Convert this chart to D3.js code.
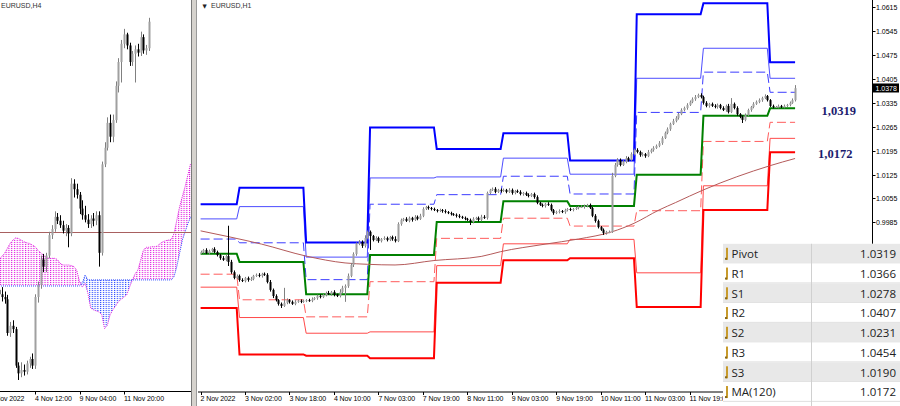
<!DOCTYPE html>
<html><head><meta charset="utf-8">
<script src="https://cdn.jsdelivr.net/npm/d3@7"></script>
<style>body{margin:0;background:#fff}svg{display:block}</style>
</head><body><svg id="c" width="900" height="406"></svg>
<script>
// ---------------- DATA ----------------
// H1 chart (right): one close per bar, 2 Nov 10:00 .. 15 Nov 09:00
const h1FirstOpen = 0.9895;
const h1Close = [
 0.9898,0.9904,0.9895,0.9901,0.9907,0.9898,0.9889,0.9880,0.9875,0.9886,0.9869,0.9839,0.9822,0.9828,
 0.9816,0.9813,0.9822,0.9816,0.9819,0.9828,0.9831,0.9828,0.9834,0.9831,0.9810,0.9787,0.9769,0.9757,0.9746,0.9740,0.9749,0.9757,0.9752,0.9746,0.9752,0.9755,0.9752,0.9755,
 0.9757,0.9755,0.9760,0.9763,0.9769,0.9766,0.9772,0.9778,0.9775,0.9781,0.9772,0.9769,0.9781,0.9793,0.9798,0.9828,0.9860,0.9892,0.9922,0.9927,0.9916,0.9939,0.9957,
 0.9945,0.9933,0.9939,0.9930,0.9936,0.9939,0.9933,0.9942,0.9936,0.9930,0.9980,0.9992,0.9995,0.9989,0.9998,0.9992,1.0001,0.9995,1.0004,1.0024,1.0030,1.0027,1.0024,1.0021,
 1.0018,1.0021,1.0018,1.0015,1.0012,1.0009,1.0007,1.0004,1.0001,0.9998,0.9995,0.9992,0.9986,0.9995,0.9998,0.9992,1.0001,0.9998,1.0071,1.0080,1.0083,1.0074,1.0080,1.0077,
 1.0080,1.0074,1.0080,1.0071,1.0077,1.0074,1.0068,1.0071,1.0065,1.0062,1.0068,1.0059,1.0042,1.0036,1.0033,1.0039,1.0036,1.0021,1.0012,1.0015,1.0018,1.0015,1.0021,1.0024,
 1.0021,1.0024,1.0027,1.0030,1.0030,1.0033,1.0036,1.0027,1.0004,0.9989,0.9971,0.9963,0.9954,0.9957,0.9957,1.0121,1.0153,1.0168,1.0153,1.0162,1.0173,1.0168,1.0185,1.0197,
 1.0191,1.0182,1.0185,1.0179,1.0191,1.0197,1.0203,1.0209,1.0217,1.0232,1.0247,1.0258,1.0273,1.0282,1.0291,1.0302,1.0314,1.0320,1.0329,1.0338,1.0346,1.0352,1.0358,1.0352,
 1.0335,1.0326,1.0332,1.0326,1.0323,1.0329,1.0320,1.0314,1.0326,1.0308,1.0332,1.0320,1.0302,1.0294,1.0285,1.0299,1.0314,1.0323,1.0332,1.0338,1.0343,1.0349,1.0355,1.0343,
 1.0326,1.0323,1.0323,1.0326,1.0323,1.0326,1.0329,1.0335,1.0343,1.0378
];
// upper / lower wick lengths in pips
const h1WickUp = [
 4,3,5,4,3,5,4,3,6,5,89,6,5,4,
 4,5,3,4,6,3,4,5,3,4,5,6,4,5,3,4,44,5,3,4,5,3,4,3,
 3,4,5,3,4,5,3,4,6,3,5,4,8,6,5,7,6,5,4,6,5,8,4,
 4,3,5,4,3,5,4,3,4,8,5,4,3,5,4,3,5,4,6,5,3,4,3,4,
 3,4,3,5,3,4,3,4,5,3,4,3,4,5,3,4,6,5,4,3,4,5,3,4,
 4,3,5,4,3,4,5,3,4,5,3,4,5,3,4,3,5,4,3,4,5,3,4,3,
 4,3,4,3,5,4,3,4,3,5,4,3,4,3,4,9,6,5,4,5,6,4,5,4,
 5,4,5,3,6,4,5,4,6,5,4,5,4,6,5,4,5,4,5,4,5,6,4,5,
 4,5,3,4,5,4,3,5,4,6,17,4,5,3,4,5,4,3,5,4,5,4,5,3,
 3,4,3,4,3,4,3,4,5,9
];
const h1WickDn = [
 3,4,3,5,4,3,4,5,3,4,12,5,4,3,
 5,3,4,5,3,4,3,4,5,3,4,5,6,4,5,6,3,4,5,3,4,3,4,3,
 4,3,4,3,5,4,3,4,3,5,4,3,4,3,41,5,4,6,5,4,6,5,4,
 41,4,3,5,4,3,4,3,5,4,3,5,4,3,4,5,3,4,3,4,3,5,4,3,
 4,3,5,4,3,4,3,5,4,3,4,3,9,4,3,5,4,3,5,4,3,4,3,5,
 3,4,3,5,4,3,4,5,3,4,3,5,4,3,4,5,3,4,5,3,4,3,5,4,
 3,4,3,4,3,5,4,3,4,5,4,3,6,5,4,3,4,5,4,3,4,5,3,4,
 4,5,4,5,3,4,5,3,4,5,3,4,5,3,4,5,3,4,5,3,4,5,3,4,
 5,4,5,3,4,5,4,3,5,4,3,4,5,4,9,4,3,5,4,3,4,5,3,4,
 3,4,3,4,3,4,3,4,3,4
];
// daily pivot levels: first bar of each day
const dayStart = [0,14,38,61,85,109,133,157,181,205];
const lastBar = 214;
const levR3 = [1.0038,1.0086,0.9926,1.0263,1.0200,1.0246,1.0166,1.0595,1.0627,1.0454];
const levR2 = [0.9995,1.0031,0.9883,1.0115,1.0118,1.0173,1.0126,1.0407,1.0495,1.0407];
const levR1 = [0.9936,0.9925,0.9817,1.0038,1.0066,1.0120,1.0068,1.0307,1.0425,1.0366];
const levP  = [0.9893,0.9869,0.9774,0.9889,0.9986,1.0047,1.0033,1.0124,1.0297,1.0319];
const levS1 = [0.9833,0.9758,0.9708,0.9811,0.9938,0.9997,0.9974,1.0019,1.0222,1.0278];
const levS2 = [0.9795,0.9706,0.9660,0.9664,0.9858,0.9922,0.9935,0.9837,1.0092,1.0231];
const levS3 = [0.9734,0.9598,0.9594,0.9587,0.9808,0.9874,0.9880,0.9737,1.0021,1.0190];
// MA(120) read at sample bars
const maBar = [0,10,22,38,52,60,70,84,101,108,124,136,148,156,165,171,181,205,214];
const maVal = [0.9960,0.9943,0.9921,0.9886,0.9866,0.9862,0.9860,0.9873,0.9885,0.9899,0.9921,0.9936,0.9957,0.9982,1.0021,1.0043,1.0080,1.0151,1.0172];
const h1TimeLabels = ["2 Nov 2022","3 Nov 02:00","3 Nov 18:00","4 Nov 10:00","7 Nov 03:00","7 Nov 19:00","8 Nov 11:00","9 Nov 03:00","9 Nov 19:00","10 Nov 11:00","11 Nov 03:00","11 Nov 19:00"];
const h1TimeBars = [0,16,32,48,64,80,96,112,128,144,160,176];
const priceTicks = [1.0615,1.0545,1.0475,1.0405,1.0335,1.0265,1.0195,1.0125,1.0055,0.9985,0.9915];
const lastPrice = 1.0378;
const noteValues = [1.0319,1.0172];
const noteTexts = ["1,0319","1,0172"];
const tableNames = ["Pivot","R1","S1","R2","S2","R3","S3","MA(120)"];
const tableValues = ["1.0319","1.0366","1.0278","1.0407","1.0231","1.0454","1.0190","1.0172"];

// H4 chart (left): 2 Nov 08:00 .. 15 Nov 08:00
const h4FirstOpen = 0.9893;
const h4High = [0.9905,0.9898,0.9890,0.9884,0.9835,0.9838,0.9826,0.9762,0.9762,0.9758,0.9765,0.9772,0.9778,0.9885,0.9908,0.9955,0.9958,0.9960,0.9998,1.0010,1.0035,1.0032,1.0028,1.0018,1.0012,1.0010,1.0095,1.0093,1.0085,1.0070,1.0055,1.0045,1.0030,1.0028,1.0032,1.0035,1.0035,1.0125,1.0160,1.0205,1.0210,1.0210,1.0270,1.0312,1.0345,1.0365,1.0358,1.0340,1.0325,1.0335,1.0338,1.0360,1.0355,1.0336,1.0385];
const h4Low  = [0.9880,0.9872,0.9868,0.9810,0.9808,0.9815,0.9752,0.9730,0.9735,0.9738,0.9740,0.9752,0.9750,0.9750,0.9870,0.9895,0.9925,0.9925,0.9950,0.9985,0.9998,1.0012,1.0005,0.9995,0.9990,0.9970,0.9990,1.0060,1.0058,1.0030,1.0020,1.0015,1.0005,1.0005,1.0008,1.0010,0.9935,0.9955,1.0115,1.0145,1.0160,1.0160,1.0195,1.0250,1.0268,1.0330,1.0328,1.0298,1.0298,1.0268,1.0315,1.0316,1.0320,1.0318,1.0325];
const h4Close= [0.9885,0.9880,0.9876,0.9815,0.9828,0.9822,0.9756,0.9742,0.9748,0.9745,0.9760,0.9768,0.9756,0.9880,0.9902,0.9948,0.9935,0.9955,0.9992,1.0003,1.0025,1.0018,1.0010,1.0000,1.0005,0.9995,1.0085,1.0075,1.0065,1.0040,1.0028,1.0020,1.0012,1.0022,1.0018,1.0028,0.9960,1.0120,1.0150,1.0195,1.0170,1.0200,1.0262,1.0305,1.0338,1.0355,1.0335,1.0305,1.0320,1.0328,1.0322,1.0350,1.0326,1.0330,1.0378];
// Ichimoku cloud spans (shifted 26 bars ahead)
const spanA = [0.9950,0.9953,0.9959,0.9968,0.9977,0.9983,0.9987,0.9986,0.9983,0.9980,
 0.9978,0.9977,0.9974,0.9971,0.9965,0.9960,0.9956,0.9952,0.9950,0.9950,
 0.9950,0.9948,0.9941,0.9938,0.9938,0.9938,0.9937,0.9935,0.9928,0.9908,
 0.9898,0.9905,0.9887,0.9860,0.9857,0.9855,0.9853,0.9848,0.9823,0.9829,
 0.9848,0.9857,0.9864,0.9872,0.9876,0.9880,0.9884,0.9898,0.9911,0.9922,
 0.9929,0.9947,0.9965,0.9970,0.9970,0.9971,0.9971,0.9972,0.9977,0.9980,
 0.9982,0.9983,0.9984,0.9995,1.0019,1.0043,1.0062,1.0080,1.0101,1.0122];
const spanB = [0.9900,0.9900,0.9900,0.9900,0.9900,0.9900,0.9900,0.9900,0.9900,0.9900,
 0.9900,0.9900,0.9900,0.9900,0.9900,0.9900,0.9900,0.9900,0.9900,0.9900,
 0.9900,0.9900,0.9900,0.9900,0.9900,0.9900,0.9900,0.9900,0.9900,0.9900,
 0.9905,0.9920,0.9911,0.9911,0.9911,0.9911,0.9911,0.9911,0.9911,0.9911,
 0.9911,0.9911,0.9911,0.9911,0.9911,0.9911,0.9911,0.9911,0.9911,0.9911,
 0.9911,0.9911,0.9911,0.9911,0.9911,0.9911,0.9911,0.9911,0.9911,0.9911,
 0.9911,0.9911,0.9911,0.9917,0.9935,0.9959,0.9983,0.9998,1.0013,1.0025];
const h4Level = 0.9998;
const h4TimeLabels = ["2 Nov 2022","4 Nov 12:00","9 Nov 04:00","11 Nov 20:00"];
const h4TimeBars = [-3.4,13,29,45];

// ---------------- DRAW ----------------
const svg = d3.select('#c');
const FONT = "'Liberation Sans', Arial, sans-serif";
const defs = svg.append('defs');
defs.append('clipPath').attr('id','clipL').append('rect').attr('x',0).attr('y',0).attr('width',191).attr('height',391.5);
defs.append('clipPath').attr('id','clipR').append('rect').attr('x',198).attr('y',0).attr('width',674.5).attr('height',391.5);
defs.append('clipPath').attr('id','clipAxis').append('rect').attr('x',873).attr('y',0).attr('width',27).attr('height',243.8);
function dotPattern(id, color){
  const p = defs.append('pattern').attr('id',id).attr('patternUnits','userSpaceOnUse')
    .attr('width',2.78).attr('height',2);
  p.append('rect').attr('x',0).attr('y',0).attr('width',1.2).attr('height',1.1).attr('fill',color);
}
dotPattern('dotM','#e020e0');
dotPattern('dotB','#2a48ff');

function drawCandles(g, x, y, opens, highs, lows, closes){
  closes.forEach((c,i)=>{
    const o = opens[i], up = c >= o;
    const cx = Math.round(x(i)) + 0.5;
    g.append('line').attr('x1',cx).attr('x2',cx)
      .attr('y1',y(highs[i])).attr('y2',y(lows[i]))
      .attr('stroke', up ? '#808080' : '#000').attr('stroke-width',1);
    const yt = y(Math.max(o,c)), yb = y(Math.min(o,c));
    g.append('rect').attr('x',cx-1).attr('y',yt).attr('width',2)
      .attr('height',Math.max(1,yb-yt)).attr('fill', up ? '#a0a0a0' : '#000');
  });
}

// ---- left panel (H4)
const xL = d3.scaleLinear().domain([0,54]).range([-1,-1+54*2.778]);
const yL = d3.scaleLinear().domain([0.97101,1.04172]).range([391,0]);
const gL = svg.append('g').attr('clip-path','url(#clipL)');
const cloud = spanA.map((a,i)=>({i, a, b: spanB[i]}));
gL.append('path').datum(cloud).attr('fill','url(#dotM)')
  .attr('d', d3.area().x(d=>xL(d.i)).y0(d=>yL(d.b)).y1(d=>yL(Math.max(d.a,d.b))));
gL.append('path').datum(cloud).attr('fill','url(#dotB)')
  .attr('d', d3.area().x(d=>xL(d.i)).y0(d=>yL(d.a)).y1(d=>yL(Math.max(d.a,d.b))));
gL.append('path').datum(cloud).attr('fill','none').attr('stroke','#e020e0').attr('stroke-width',1).attr('stroke-dasharray','1,1')
  .attr('d', d3.line().x(d=>xL(d.i)).y(d=>yL(d.a)));
gL.append('path').datum(cloud).attr('fill','none').attr('stroke','#2a48ff').attr('stroke-width',1).attr('stroke-dasharray','1,1')
  .attr('d', d3.line().x(d=>xL(d.i)).y(d=>yL(d.b)));
gL.append('line').attr('x1',0).attr('x2',191).attr('y1',Math.round(yL(h4Level))+0.5).attr('y2',Math.round(yL(h4Level))+0.5)
  .attr('stroke','#a86060').attr('stroke-width',1);
const h4Open = h4Close.map((c,i)=> i===0 ? h4FirstOpen : h4Close[i-1]);
drawCandles(gL, xL, yL, h4Open, h4High, h4Low, h4Close);
svg.append('text').attr('x',1).attr('y',8).attr('font-family',FONT).attr('font-size',7).attr('fill','#333').text('EURUSD,H4');
svg.append('line').attr('x1',0).attr('x2',191).attr('y1',391.5).attr('y2',391.5).attr('stroke','#000');
h4TimeLabels.forEach((t,k)=>{
  const x = xL(h4TimeBars[k]);
  svg.append('line').attr('x1',Math.round(x)+0.5).attr('x2',Math.round(x)+0.5).attr('y1',391.5).attr('y2',394.5).attr('stroke','#000');
  svg.append('text').attr('x',x).attr('y',401).attr('font-family',FONT).attr('font-size',7).attr('letter-spacing',-0.1).attr('fill','#000').text(t);
});

// splitter
svg.append('rect').attr('x',191).attr('y',0).attr('width',6).attr('height',406).attr('fill','#d6d3ce');
svg.append('line').attr('x1',191.5).attr('x2',191.5).attr('y1',0).attr('y2',406).attr('stroke','#7a7a7a');
svg.append('line').attr('x1',196.5).attr('x2',196.5).attr('y1',0).attr('y2',406).attr('stroke','#9a9a9a');

// ---- right panel (H1)
const xR = d3.scaleLinear().domain([0,lastBar]).range([200.6,200.6+lastBar*2.778]);
const yR = d3.scaleLinear().domain([0.94878,1.06364]).range([392,0]);
const gR = svg.append('g').attr('clip-path','url(#clipR)');

function levelPoints(vals){
  const pts = [];
  vals.forEach((v,d)=>{
    const s = dayStart[d], e = d < dayStart.length-1 ? dayStart[d+1]-1 : lastBar;
    pts.push({i:s, v}); pts.push({i:e, v});
  });
  return pts;
}
const lvLine = d3.line().x(d=>xR(d.i)).y(d=>yR(d.v));
const levels = [
  {v:levS2, c:'#ff4a4a', w:1, dash:null},
  {v:levS1, c:'#ff5c5c', w:1, dash:'9,4'},
  {v:levR2, c:'#4d4dff', w:1, dash:null},
  {v:levR1, c:'#3c3cff', w:1, dash:'9,4'},
  {v:levS3, c:'#ff0000', w:2, dash:null},
  {v:levR3, c:'#0000ff', w:2, dash:null},
  {v:levP,  c:'#008000', w:2, dash:null}
];
levels.forEach(L=>{
  gR.append('path').datum(levelPoints(L.v)).attr('fill','none').attr('stroke',L.c)
    .attr('stroke-width',L.w).attr('stroke-dasharray',L.dash).attr('d',lvLine);
});
// MA(120)
gR.append('path').datum(maBar.map((b,k)=>({i:b, v:maVal[k]}))).attr('fill','none')
  .attr('stroke','#b45a5a').attr('stroke-width',1)
  .attr('d', d3.line().curve(d3.curveMonotoneX).x(d=>xR(d.i)).y(d=>yR(d.v)));
// candles
const h1Open = h1Close.map((c,i)=> i===0 ? h1FirstOpen : h1Close[i-1]);
const h1High = h1Close.map((c,i)=> Math.max(c,h1Open[i]) + h1WickUp[i]*0.0001);
const h1Low  = h1Close.map((c,i)=> Math.min(c,h1Open[i]) - h1WickDn[i]*0.0001);
drawCandles(gR, xR, yR, h1Open, h1High, h1Low, h1Close);

// title
svg.append('text').attr('x',202.5).attr('y',7.5).attr('font-family',"'DejaVu Sans',sans-serif").attr('font-size',5.5).attr('fill','#222').text('▼');
svg.append('text').attr('x',211).attr('y',8).attr('font-family',FONT).attr('font-size',7).attr('fill','#333').text('EURUSD,H1');

// notes
svg.selectAll('text.note').data(noteTexts).enter().append('text').attr('class','note')
  .attr('x',(d,k)=> k===0 ? 821.5 : 818)
  .attr('y',(d,k)=> yR(noteValues[k]) + (k===0 ? 6.5 : -0.5))
  .attr('font-family',"'Liberation Serif','Times New Roman',serif").attr('font-weight','bold')
  .attr('font-size',12.5).attr('fill','#1c1c6e').text(d=>d);

// price axis
svg.append('line').attr('x1',872.5).attr('x2',872.5).attr('y1',0).attr('y2',392).attr('stroke','#000');
const gAx = svg.append('g').attr('clip-path','url(#clipAxis)');
priceTicks.forEach(p=>{
  const y = Math.round(yR(p))+0.5;
  svg.append('line').attr('x1',872.5).attr('x2',875.5).attr('y1',y).attr('y2',y).attr('stroke','#000');
  gAx.append('text').attr('x',876).attr('y',y+2.6).attr('font-family',FONT).attr('font-size',7).attr('fill','#000').text(p.toFixed(4));
});
const yLP = yR(lastPrice);
svg.append('rect').attr('x',873).attr('y',yLP-4.7).attr('width',26).attr('height',9).attr('fill','#000');
svg.append('text').attr('x',875.5).attr('y',yLP+2.6).attr('font-family',FONT).attr('font-size',7).attr('fill','#fff').text(lastPrice.toFixed(4));

// time axis
svg.append('line').attr('x1',198).attr('x2',872.5).attr('y1',392).attr('y2',392).attr('stroke','#000');
h1TimeLabels.forEach((t,k)=>{
  const x = xR(h1TimeBars[k]);
  svg.append('line').attr('x1',Math.round(x)+0.5).attr('x2',Math.round(x)+0.5).attr('y1',392).attr('y2',395).attr('stroke','#000');
  svg.append('text').attr('x',x).attr('y',401).attr('font-family',FONT).attr('font-size',7).attr('letter-spacing',-0.1).attr('fill','#000').text(t);
});

// table
const tX = 723, tY = 243.8, rowH = 19.75, colX = 811;
const gT = svg.append('g');
gT.append('rect').attr('x',tX).attr('y',tY).attr('width',900-tX).attr('height',406-tY).attr('fill','#fff');
tableNames.forEach((n,k)=>{
  const y0 = tY + k*rowH;
  gT.append('rect').attr('x',tX).attr('y',y0).attr('width',900-tX).attr('height',rowH-0.8)
    .attr('fill', k%2===0 ? '#e8e8e8' : '#ffffff');
  gT.append('line').attr('x1',tX).attr('x2',900).attr('y1',y0+rowH-0.4).attr('y2',y0+rowH-0.4).attr('stroke','#d8d8d8').attr('stroke-width',0.8);
  gT.append('rect').attr('x',tX+3).attr('y',y0+4).attr('width',2).attr('height',12).attr('fill','#c89b2c');
  gT.append('rect').attr('x',tX+2).attr('y',y0+14).attr('width',2).attr('height',2).attr('fill','#8a6a1a');
  gT.append('text').attr('x',tX+8.5).attr('y',y0+14.4).attr('font-family',"'Open Sans','Noto Sans',sans-serif")
    .attr('font-size',11.5).attr('fill','#222').text(n);
  gT.append('text').attr('x',896).attr('y',y0+14.4).attr('text-anchor','end').attr('font-family',"'Open Sans','Noto Sans',sans-serif")
    .attr('font-size',11.5).attr('fill','#222').text(tableValues[k]);
});
gT.append('line').attr('x1',colX+0.5).attr('x2',colX+0.5).attr('y1',tY).attr('y2',406).attr('stroke','#d0d0d0');
</script></body></html>
